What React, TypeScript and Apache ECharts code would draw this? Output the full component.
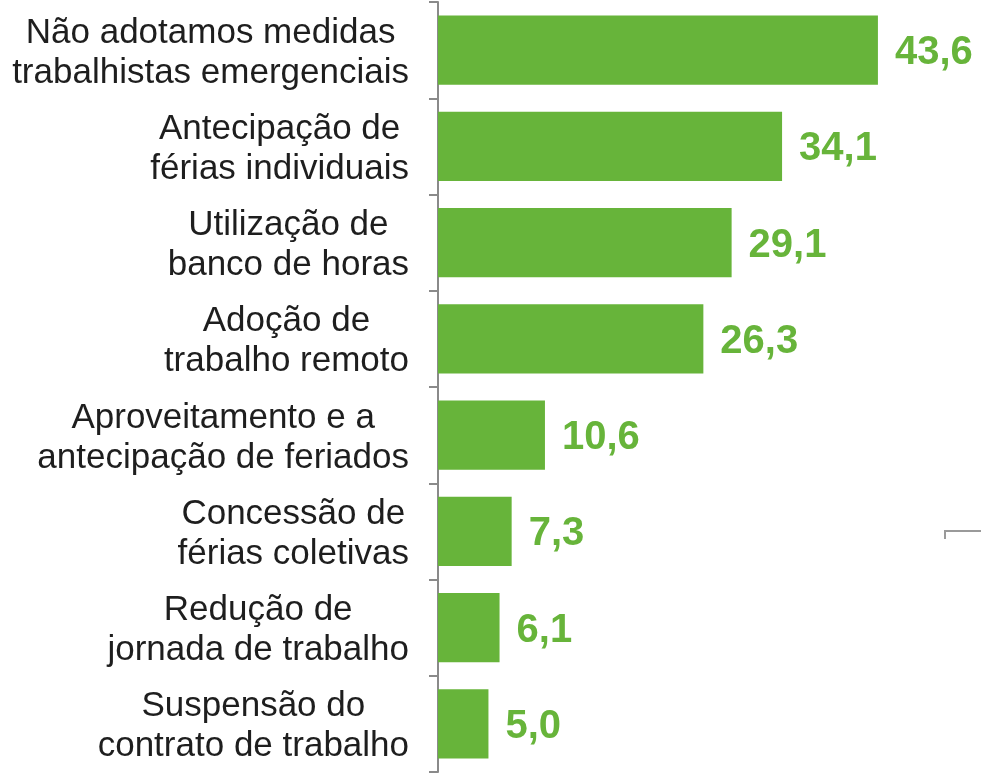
import React, { useEffect, useRef } from "react";
import * as echarts from "echarts";

const categories: string[] = [
  "Não adotamos medidas\ntrabalhistas emergenciais",
  "Antecipação de\nférias individuais",
  "Utilização de\nbanco de horas",
  "Adoção de\ntrabalho remoto",
  "Aproveitamento e a\nantecipação de feriados",
  "Concessão de\nférias coletivas",
  "Redução de\njornada de trabalho",
  "Suspensão do\ncontrato de trabalho",
];

const values: number[] = [43.6, 34.1, 29.1, 26.3, 10.6, 7.3, 6.1, 5.0];

const GREEN = "#67b43a";

export default function App() {
  const ref = useRef<HTMLDivElement>(null);
  useEffect(() => {
    if (!ref.current) return;
    const chart = echarts.init(ref.current, null, { renderer: "svg" });
    chart.setOption({
      animation: false,
      grid: { left: 438, top: 2, width: 504.5, height: 770, containLabel: false },
      xAxis: {
        type: "value",
        min: 0,
        max: 50,
        show: false,
      },
      yAxis: {
        type: "category",
        inverse: true,
        data: categories,
        axisLine: { show: true, lineStyle: { color: "#8a8a8a", width: 2 } },
        axisTick: { show: true, length: 9, lineStyle: { color: "#8a8a8a", width: 2 } },
        axisLabel: {
          interval: 0,
          margin: 29,
          align: "right",
          formatter: (v: string) =>
            v
              .split("\n")
              .map((l) => `{a|${l}}`)
              .join("\n"),
          rich: {
            a: {
              align: "center",
              fontFamily: "Liberation Sans",
              fontSize: 35,
              lineHeight: 40,
              color: "#1e1e1e",
            },
          },
        },
        splitLine: { show: false },
      },
      series: [
        {
          type: "bar",
          data: values,
          barCategoryGap: "28%",
          itemStyle: { color: GREEN },
          label: {
            show: true,
            position: "right",
            distance: 17,
            color: GREEN,
            fontFamily: "Liberation Sans",
            fontWeight: "bold",
            fontSize: 40,
            formatter: (p: any) => Number(p.value).toFixed(1).replace(".", ","),
          },
        },
      ],
      graphic: [
        {
          type: "polyline",
          shape: { points: [[945, 539], [945, 531], [981, 531]] },
          style: { stroke: "#9a9a9a", lineWidth: 2, fill: null },
        },
      ],
    });
    return () => chart.dispose();
  }, []);
  return (
    <div
      ref={ref}
      style={{ position: "fixed", left: 0, top: 0, width: 981, height: 775 }}
    />
  );
}
